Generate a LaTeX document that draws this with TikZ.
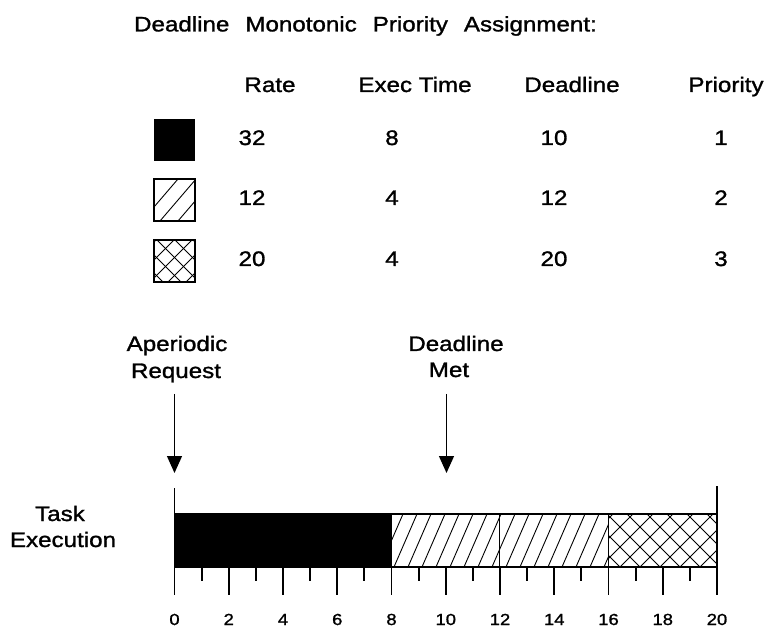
\documentclass[tikz,border=0pt]{standalone}
\usepackage{fontspec}
\setmainfont[FakeStretch=1.15,FakeBold=1.3]{Liberation Sans}
\usetikzlibrary{arrows.meta}
\begin{document}
\begin{tikzpicture}[x=1pt,y=-1pt,
  txt/.style={anchor=base,inner sep=0pt,font=\fontsize{21}{24}\selectfont},
  box/.style={line width=2pt},
  hl/.style={line width=0.9pt},
  tick/.style={line width=1.8pt},
  arr/.style={line width=1.3pt,-{Triangle[width=15pt,length=17pt]}}]
\useasboundingbox (0,0) rectangle (764,631);
% title
\node[txt] (title) at (365.5,31.4) {Deadline\hspace{16pt}Monotonic\hspace{16pt}Priority\hspace{16pt}Assignment:};
% header
\node[txt] (hrate) at (270,92) {Rate};
\node[txt] (hexec) at (415,92) {Exec Time};
\node[txt] (hdead) at (572,92) {Deadline};
\node[txt] (hprio) at (726,92) {Priority};
% rows
\node[txt] (r1a) at (252,145) {32};
\node[txt] (r1b) at (392,145) {8};
\node[txt] (r1c) at (554,145) {10};
\node[txt] (r1d) at (721,145) {1};
\node[txt] (r2a) at (252,205) {12};
\node[txt] (r2b) at (392,205) {4};
\node[txt] (r2c) at (554,205) {12};
\node[txt] (r2d) at (721,205) {2};
\node[txt] (r3a) at (252,266) {20};
\node[txt] (r3b) at (392,266) {4};
\node[txt] (r3c) at (554,266) {20};
\node[txt] (r3d) at (721,266) {3};
% legend squares
\fill (153.5,119) rectangle (195,161);
\begin{scope}
  \clip (153.5,179) rectangle (195,221);
  \foreach \k in {142,160,178,196} \draw[hl] (\k,221) -- ++(36,-42);
\end{scope}
\draw[box] (153.5,179) rectangle (195,221);
\begin{scope}
  \clip (153.5,240) rectangle (195,282);
  \foreach \k in {114,132,150,168,186} \draw[hl] (\k,282) -- ++(42,-42);
  \foreach \k in {163,181,199,217,235} \draw[hl] (\k,282) -- ++(-42,-42);
\end{scope}
\draw[box] (153.5,240) rectangle (195,282);
% arrow labels
\node[txt] (ap1) at (177,351) {Aperiodic};
\node[txt] (ap2) at (176,378) {Request};
\node[txt] (dm1) at (456,351) {Deadline};
\node[txt] (dm2) at (449,377) {Met};
\coordinate (apS) at (174.5,394);
\coordinate (apT) at (174.5,473);
\coordinate (dmS) at (446.5,394);
\coordinate (dmT) at (446.5,473);
\draw[arr] (apS) -- (apT);
\draw[arr] (dmS) -- (dmT);
% task execution label
\node[txt] (t1) at (60,521) {Task};
\node[txt] (t2) at (63,547) {Execution};
% bar
\def\ux{27.125}
\fill (174.5,514) rectangle (391.5,567);
\begin{scope}
  \clip (391.5,514) rectangle (608.5,567);
  \foreach \k in {0,...,17} \draw[hl] (380+\k*14,567) -- ++(23,-53);
\end{scope}
\begin{scope}
  \clip (608.5,514) rectangle (717,567);
  \foreach \k in {0,...,10} \draw[hl] (560+\k*20,567) -- ++(53,-53);
  \foreach \k in {0,...,10} \draw[hl] (600+\k*20,567) -- ++(-53,-53);
\end{scope}
\draw[box] (174.5,514) rectangle (717,567);
\draw[tick] (499.5,514) -- (499.5,567);
\draw[tick] (608.5,514) -- (608.5,567);
% ticks
\draw[tick] (174.5,488) -- (174.5,595);
\draw[tick] (717,486) -- (717,595);
\foreach \i in {1,...,19}{
  \pgfmathsetmacro{\xx}{174.5+\ux*\i}
  \ifodd\i
    \draw[tick] (\xx,567) -- (\xx,581);
  \else
    \draw[tick] (\xx,567) -- (\xx,595);
  \fi
}
\foreach \i in {0,2,...,20}{
  \pgfmathsetmacro{\xx}{174.5+\ux*\i}
  \node[txt,font=\fontsize{16}{19}\selectfont] (lab\i) at (\xx,625) {\i};
}
\end{tikzpicture}
\end{document}
